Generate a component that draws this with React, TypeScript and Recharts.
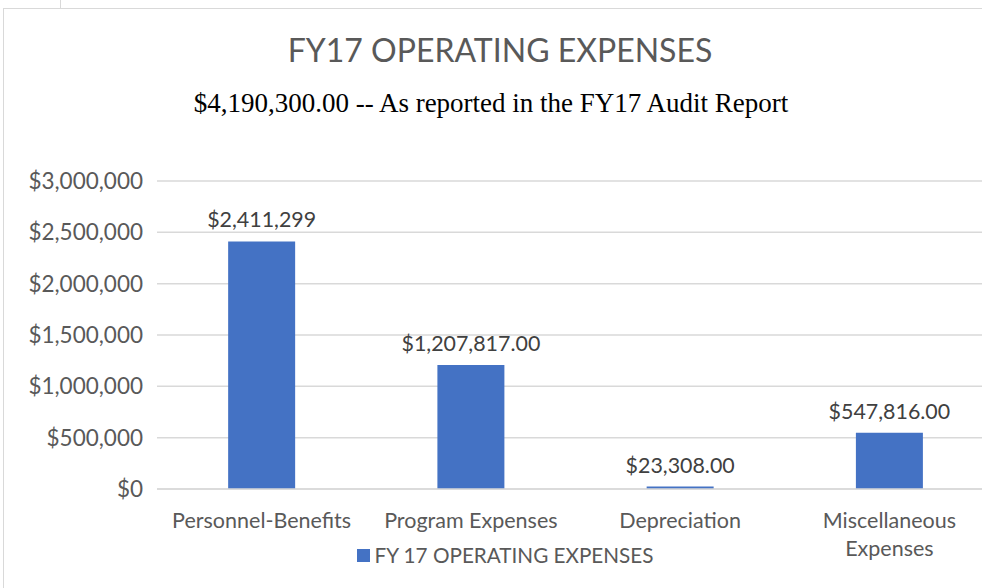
import { BarChart, Bar, XAxis, YAxis, CartesianGrid, Legend, LabelList } from "recharts";

const categories = ["Personnel-Benefits", "Program Expenses", "Depreciation", "Miscellaneous Expenses"];
const expenses = [2411299, 1207817, 23308, 547816];
const valueLabels = ["$2,411,299", "$1,207,817.00", "$23,308.00", "$547,816.00"];
const yTicks = [0, 500000, 1000000, 1500000, 2000000, 2500000, 3000000];

const data = categories.map((name, i) => ({ name, value: expenses[i], label: valueLabels[i] }));

const FONT = "Lato, 'Open Sans', sans-serif";
const GREY = "#595959";
const BLUE = "#4472C4";

const fmtMoney = (v: number) => "$" + v.toLocaleString("en-US");

// long category names go on two lines, like the original
const CategoryTick = (props: any) => {
  const { x, y, payload } = props;
  const text: string = payload.value;
  const lines = text.length > 18 ? text.split(" ") : [text];
  return (
    <text x={x} y={y + 31} textAnchor="middle" fill={GREY} fontSize={21.5} fontFamily={FONT}>
      {lines.map((l, i) => (
        <tspan key={i} x={x} dy={i === 0 ? 0 : 28}>
          {l}
        </tspan>
      ))}
    </text>
  );
};

const LegendContent = () => (
  <div style={{ display: "flex", justifyContent: "center", alignItems: "center", fontFamily: FONT, fontSize: 20.7, color: GREY }}>
    <span style={{ width: 13, height: 13, background: BLUE, marginRight: 5, display: "inline-block" }} />
    FY 17 OPERATING EXPENSES
  </div>
);

export default function App() {
  return (
    <div style={{ position: "absolute", left: 0, top: 0, width: 982, height: 588, overflow: "hidden", background: "#fff" }}>
      {/* page frame */}
      <div style={{ position: "absolute", left: 60, top: 0, width: 1, height: 8, background: "#d9d9d9" }} />
      <div style={{ position: "absolute", left: 3, top: 8, width: 1100, height: 700, borderLeft: "1px solid #d9d9d9", borderTop: "1px solid #d9d9d9" }} />

      <div style={{ position: "absolute", left: 0, top: 30, width: 1000, textAlign: "center", fontFamily: FONT, fontSize: 32, color: GREY, fontWeight: 400 }}>
        FY17 OPERATING EXPENSES
      </div>
      <div style={{ position: "absolute", left: 0, top: 88, width: 982, textAlign: "center", fontFamily: "'Liberation Serif', 'Times New Roman', serif", fontSize: 27, color: "#000" }}>
        $4,190,300.00 -- As reported in the FY17 Audit Report
      </div>

      <div style={{ position: "absolute", left: 0, top: 0 }}>
        <BarChart width={994} height={588} data={data} margin={{ top: 181, right: 0, left: 0, bottom: 39 }} barCategoryGap="34%">
          <CartesianGrid vertical={false} stroke="#d9d9d9" strokeWidth={1.5} />
          <XAxis
            dataKey="name"
            axisLine={{ stroke: "#d9d9d9", strokeWidth: 1.5 }}
            tickLine={false}
            tick={<CategoryTick />}
            interval={0}
            height={60}
          />
          <YAxis
            domain={[0, 3000000]}
            ticks={yTicks}
            tickFormatter={fmtMoney}
            axisLine={false}
            tickLine={false}
            width={157}
            tickMargin={8}
            tick={{ fill: GREY, fontSize: 22.5, fontFamily: FONT }}
          />
          <Legend
            verticalAlign="middle"
            align="center"
            content={<LegendContent />}
            wrapperStyle={{ top: 543, left: 0, width: 1010 }}
          />
          <Bar dataKey="value" fill={BLUE} isAnimationActive={false} name="FY 17 OPERATING EXPENSES">
            <LabelList dataKey="label" position="top" offset={14} fill="#404040" fontSize={21.4} fontFamily={FONT} />
          </Bar>
        </BarChart>
      </div>
    </div>
  );
}
